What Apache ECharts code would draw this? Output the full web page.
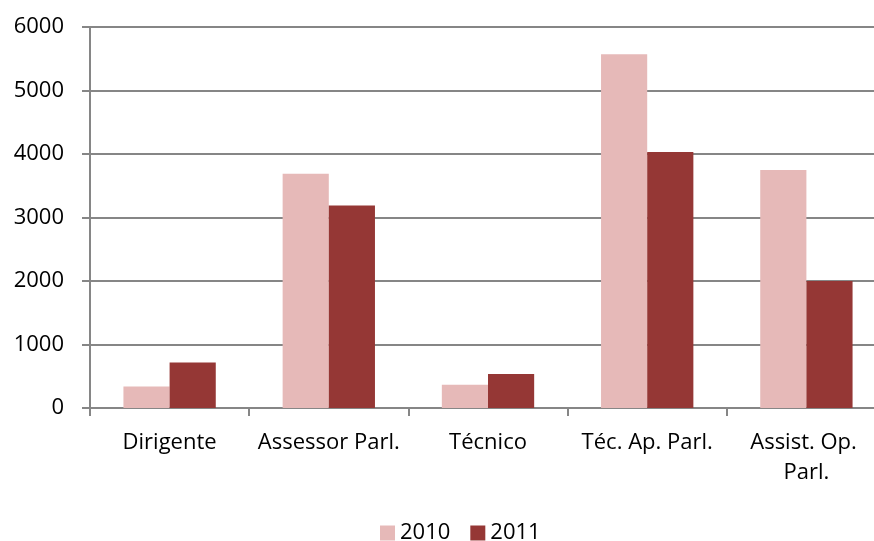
<!DOCTYPE html>
<html>
<head>
<meta charset="utf-8">
<script src="https://cdn.jsdelivr.net/npm/echarts@6/dist/echarts.min.js"></script>
<style>
  html, body { margin: 0; padding: 0; background: #fff; overflow: hidden; }
  /* plot area runs slightly past the right edge of the window */
  #chart { width: 900px; height: 541px; }
</style>
</head>
<body>
<div id="chart"></div>
<script>
// Staff counts per career category, 2010 vs 2011
const categories = ['Dirigente', 'Assessor Parl.', 'Técnico', 'Téc. Ap. Parl.', 'Assist. Op. Parl.'];
const values2010 = [340, 3690, 365, 5570, 3750];
const values2011 = [715, 3190, 535, 4030, 2000];
const seriesNames = ['2010', '2011'];

const FONT = '"Open Sans", sans-serif';
const AXIS_GREY = '#868686';

const chart = echarts.init(document.getElementById('chart'));
chart.setOption({
  animation: false,
  textStyle: { fontFamily: FONT },
  grid: { left: 90, top: 27, width: 796, height: 381, containLabel: false },
  legend: {
    left: 375,
    top: 517,
    itemWidth: 15,
    itemHeight: 15,
    itemGap: 20,
    icon: 'rect',
    textStyle: { fontSize: 22, color: '#000', fontFamily: FONT, padding: [0, 0, 0, 0] },
    data: seriesNames
  },
  xAxis: {
    type: 'category',
    data: categories,
    axisLine: { lineStyle: { color: AXIS_GREY, width: 2 } },
    axisTick: { show: true, length: 8, lineStyle: { color: AXIS_GREY, width: 2 } },
    axisLabel: {
      interval: 0,
      margin: 20,
      fontSize: 22,
      color: '#000',
      fontFamily: FONT,
      lineHeight: 30,
      width: 155,
      overflow: 'break'
    }
  },
  yAxis: {
    type: 'value',
    min: 0,
    max: 6000,
    interval: 1000,
    axisLine: { show: true, lineStyle: { color: AXIS_GREY, width: 2 } },
    axisTick: { show: true, length: 8, lineStyle: { color: AXIS_GREY, width: 2 } },
    splitLine: { lineStyle: { color: AXIS_GREY, width: 2 } },
    axisLabel: {
      margin: 26,
      fontSize: 22,
      color: '#000',
      fontFamily: FONT,
      formatter: (v) => String(v)
    }
  },
  series: [
    {
      name: seriesNames[0],
      type: 'bar',
      data: values2010,
      barGap: '0%',
      barCategoryGap: '42%',
      itemStyle: { color: '#E6B9B8' }
    },
    {
      name: seriesNames[1],
      type: 'bar',
      data: values2011,
      barGap: '0%',
      barCategoryGap: '42%',
      itemStyle: { color: '#953735' }
    }
  ]
});
</script>
</body>
</html>
